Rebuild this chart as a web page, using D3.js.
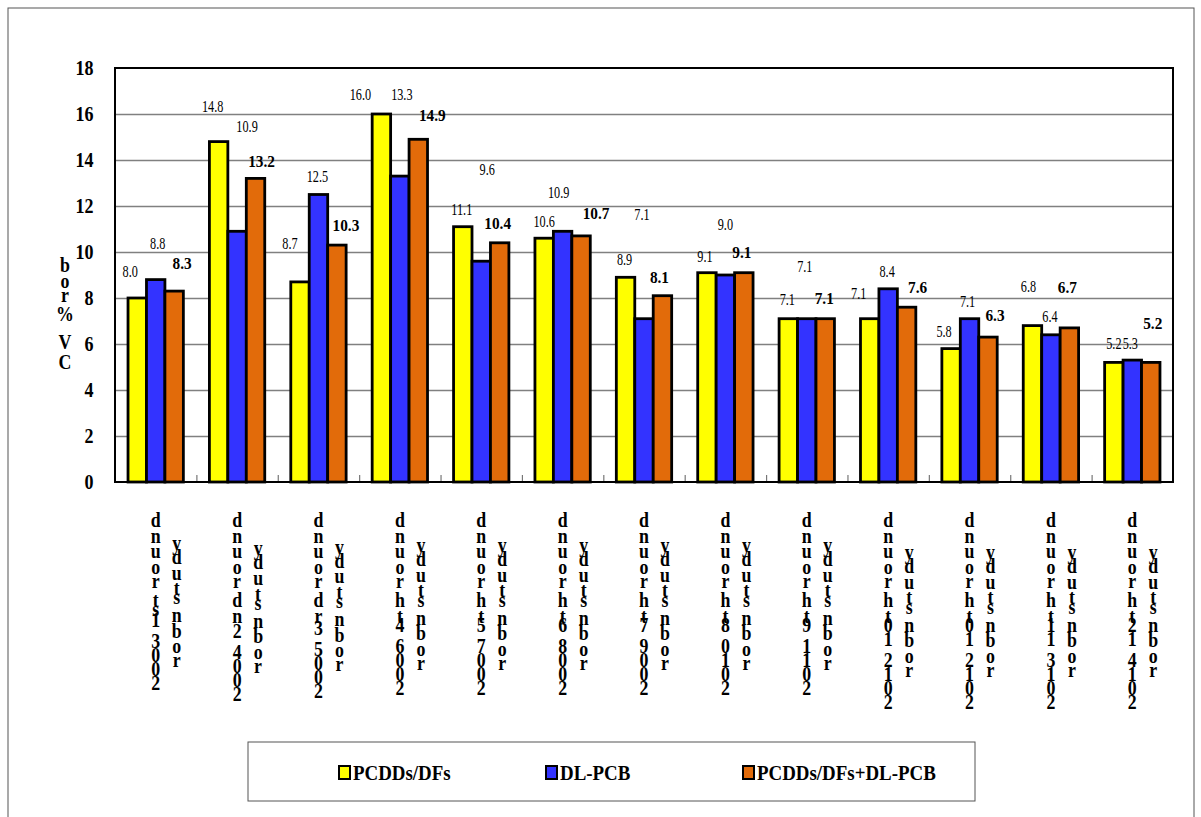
<!DOCTYPE html>
<html>
<head>
<meta charset="utf-8">
<script src="https://cdn.jsdelivr.net/npm/d3@7"></script>
<style>
  body { margin: 0; background: #fff; }
  text { font-family: "Liberation Serif", "Times New Roman", serif; }
</style>
</head>
<body>
<svg id="chart" width="1201" height="817"></svg>
<script>
// data
var rounds = ["2003 1st round", "2004 2nd round", "2005 3rd round", "2006 4th round",
  "2007 5th round", "2008 6th round", "2009 7th round", "2010 8th round",
  "2011 9th round", "2012 10th round", "2012 10th round", "2013 11th round", "2014 12th round"];
var roundSub = "robn study";
var seriesNames = ["PCDDs/DFs", "DL-PCB", "PCDDs/DFs+DL-PCB"];
var pcdd = [8.0, 14.8, 8.7, 16.0, 11.1, 10.6, 8.9, 9.1, 7.1, 7.1, 5.8, 6.8, 5.2];
var dlpcb = [8.8, 10.9, 12.5, 13.3, 9.6, 10.9, 7.1, 9.0, 7.1, 8.4, 7.1, 6.4, 5.3];
var total = [8.3, 13.2, 10.3, 14.9, 10.4, 10.7, 8.1, 9.1, 7.1, 7.6, 6.3, 6.7, 5.2];
var yTicks = [0, 2, 4, 6, 8, 10, 12, 14, 16, 18];
var yTitle = "CV% rob";

// layout
var plotLeft = 115, plotRight = 1173, plotTop = 68, plotBottom = 482;
var colors = ["#FFFF00", "#3333FF", "#E26B0A"];
// label nudges from the bar top (dx, dy), the source labels are scattered
var nudges = [
  [[-7, -27], [-6, -36], [-10, -39], [-21, -20], [-1, -18], [0, -17], [-1, -18], [-2, -17], [-1, -20], [-11, -26], [-7, -18], [-4, -40], [0, -19]],
  [[2, -37], [10, -105], [-1, -18], [2, -82], [6, -92], [-4, -39], [-2, -105], [0, -51], [-2, -53], [-1, -18], [-2, -18], [-1, -19], [-2, -17]],
  [[8, -28], [6, -17], [9, -20], [14, -24], [-2, -20], [15, -23], [-3, -19], [-2, -21], [-1, -21], [11, -20], [7, -22], [-2, -41], [2, -39]]
];
var legendX = [338, 545, 742];

var svg = d3.select("#chart");
var series = [pcdd, dlpcb, total];

// outer frame
svg.append("rect")
  .attr("x", 8).attr("y", 8).attr("width", 1186).attr("height", 840)
  .attr("fill", "none").attr("stroke", "#555").attr("stroke-width", 1);

var x0 = d3.scaleBand()
  .domain(d3.range(rounds.length))
  .range([plotLeft, plotRight])
  .paddingInner(0.32)
  .paddingOuter(0.16);

var x1 = d3.scaleBand()
  .domain([0, 1, 2])
  .range([0, x0.bandwidth()]);

var yScale = d3.scaleLinear()
  .domain([0, 18])
  .range([plotBottom, plotTop]);

//gridlines
svg.append("g")
  .attr("class", "grid")
  .attr("transform", "translate(" + plotLeft + ",0)")
  .call(d3.axisLeft(yScale).tickValues(yTicks.slice(1, -1)).tickSize(-(plotRight - plotLeft)).tickFormat(""))
  .call(function (g) { g.select(".domain").remove(); })
  .selectAll("line")
  .attr("stroke", "#808080")
  .attr("stroke-width", 1.5);

// y tick labels
var yAxis = svg.append("g")
  .attr("transform", "translate(" + plotLeft + ",0)")
  .call(d3.axisLeft(yScale).tickValues(yTicks).tickSize(0).tickPadding(24).tickFormat(d3.format("d")));
yAxis.select(".domain").remove();
yAxis.selectAll("text")
  .attr("font-family", "Liberation Serif")
  .attr("font-size", 20)
  .attr("font-weight", "bold")
  .attr("fill", "#000")
  .attr("transform", "scale(0.9,1)");

// small ticks between the groups
var xBound = d3.scaleLinear().domain([0, rounds.length]).range([plotLeft, plotRight]);
svg.append("g")
  .attr("transform", "translate(0," + plotBottom + ")")
  .call(d3.axisBottom(xBound).tickValues(d3.range(1, rounds.length)).tickSize(-7).tickFormat(""))
  .call(function (g) { g.select(".domain").remove(); })
  .selectAll("line")
  .attr("stroke", "#777")
  .attr("stroke-width", 1.2);

//Create bars
var groups = svg.selectAll("g.round")
  .data(rounds)
  .enter()
  .append("g")
  .attr("class", "round")
  .attr("transform", function (d, i) { return "translate(" + x0(i) + ",0)"; });

groups.selectAll("rect")
  .data(function (d, i) { return series.map(function (s) { return s[i]; }); })
  .enter()
  .append("rect")
  .attr("x", function (d, k) { return x1(k); })
  .attr("y", function (d) { return yScale(d); })
  .attr("width", x1.bandwidth())
  .attr("height", function (d) { return plotBottom - yScale(d); })
  .attr("fill", function (d, k) { return colors[k]; })
  .attr("stroke", "#000")
  .attr("stroke-width", 2.8);

// value labels
series.forEach(function (s, k) {
  svg.selectAll("text.val" + k)
    .data(s)
    .enter()
    .append("text")
    .attr("class", "val" + k)
    .attr("transform", function (d, i) {
      var cx = x0(i) + x1(k) + x1.bandwidth() / 2 + nudges[k][i][0];
      var cy = yScale(d) + nudges[k][i][1];
      return "translate(" + cx + "," + cy + ") scale(" + (k === 2 ? 0.9 : 0.72) + ",1)";
    })
    .attr("dy", "0.35em")
    .attr("text-anchor", "middle")
    .attr("font-size", 17)
    .attr("font-weight", k === 2 ? "bold" : "normal")
    .text(function (d) { return d3.format(".1f")(d); });
});

// plot border
svg.append("rect")
  .attr("x", plotLeft).attr("y", plotTop)
  .attr("width", plotRight - plotLeft).attr("height", plotBottom - plotTop)
  .attr("fill", "none").attr("stroke", "#000").attr("stroke-width", 2);

// stacked (upright, reversed) characters, as in the source picture
var ctx = document.createElement("canvas").getContext("2d");
ctx.font = "bold 28px 'Liberation Serif'";

function stackLength(str) {
  var chars = str.split("").reverse();
  var len = 0;
  for (var i = 0; i < chars.length - 1; i++) {
    len += ctx.measureText(chars[i]).width;
  }
  return len + 14;
}

function stackChars(str, cx, top0) {
  var chars = str.split("").reverse();
  var pos = top0;
  var g = svg.append("g");
  chars.forEach(function (c) {
    if (c !== " ") {
      g.append("text")
        .attr("transform", "translate(" + cx + "," + (pos + 14) + ") scale(0.85,1)")
        .attr("text-anchor", "middle")
        .attr("font-size", 21)
        .attr("font-weight", "bold")
        .text(c);
    }
    pos += ctx.measureText(c).width;
  });
}

rounds.forEach(function (r, i) {
  var cx = x0(i) + x0.bandwidth() / 2;
  var l1 = stackLength(r);
  var l2 = stackLength(roundSub);
  var t1 = 513;
  var mid = t1 + l1 / 2;
  stackChars(r, cx, t1);
  stackChars(roundSub, cx + 21, mid - l2 / 2);
});

stackChars(yTitle, 65, 258);

// legend
svg.append("rect")
  .attr("x", 248).attr("y", 742).attr("width", 727).attr("height", 59)
  .attr("fill", "#fff").attr("stroke", "#555").attr("stroke-width", 1);

var legend = svg.selectAll("g.legend")
  .data(seriesNames)
  .enter()
  .append("g")
  .attr("class", "legend")
  .attr("transform", function (d, i) { return "translate(" + legendX[i] + ",772)"; });

legend.append("rect")
  .attr("x", 1).attr("y", -6)
  .attr("width", 11).attr("height", 13)
  .attr("fill", function (d, i) { return colors[i]; })
  .attr("stroke", "#000").attr("stroke-width", 2);

legend.append("text")
  .attr("transform", "translate(15,8) scale(0.86,1)")
  .attr("font-size", 22)
  .attr("font-weight", "bold")
  .text(function (d) { return d; });
</script>
</body>
</html>
